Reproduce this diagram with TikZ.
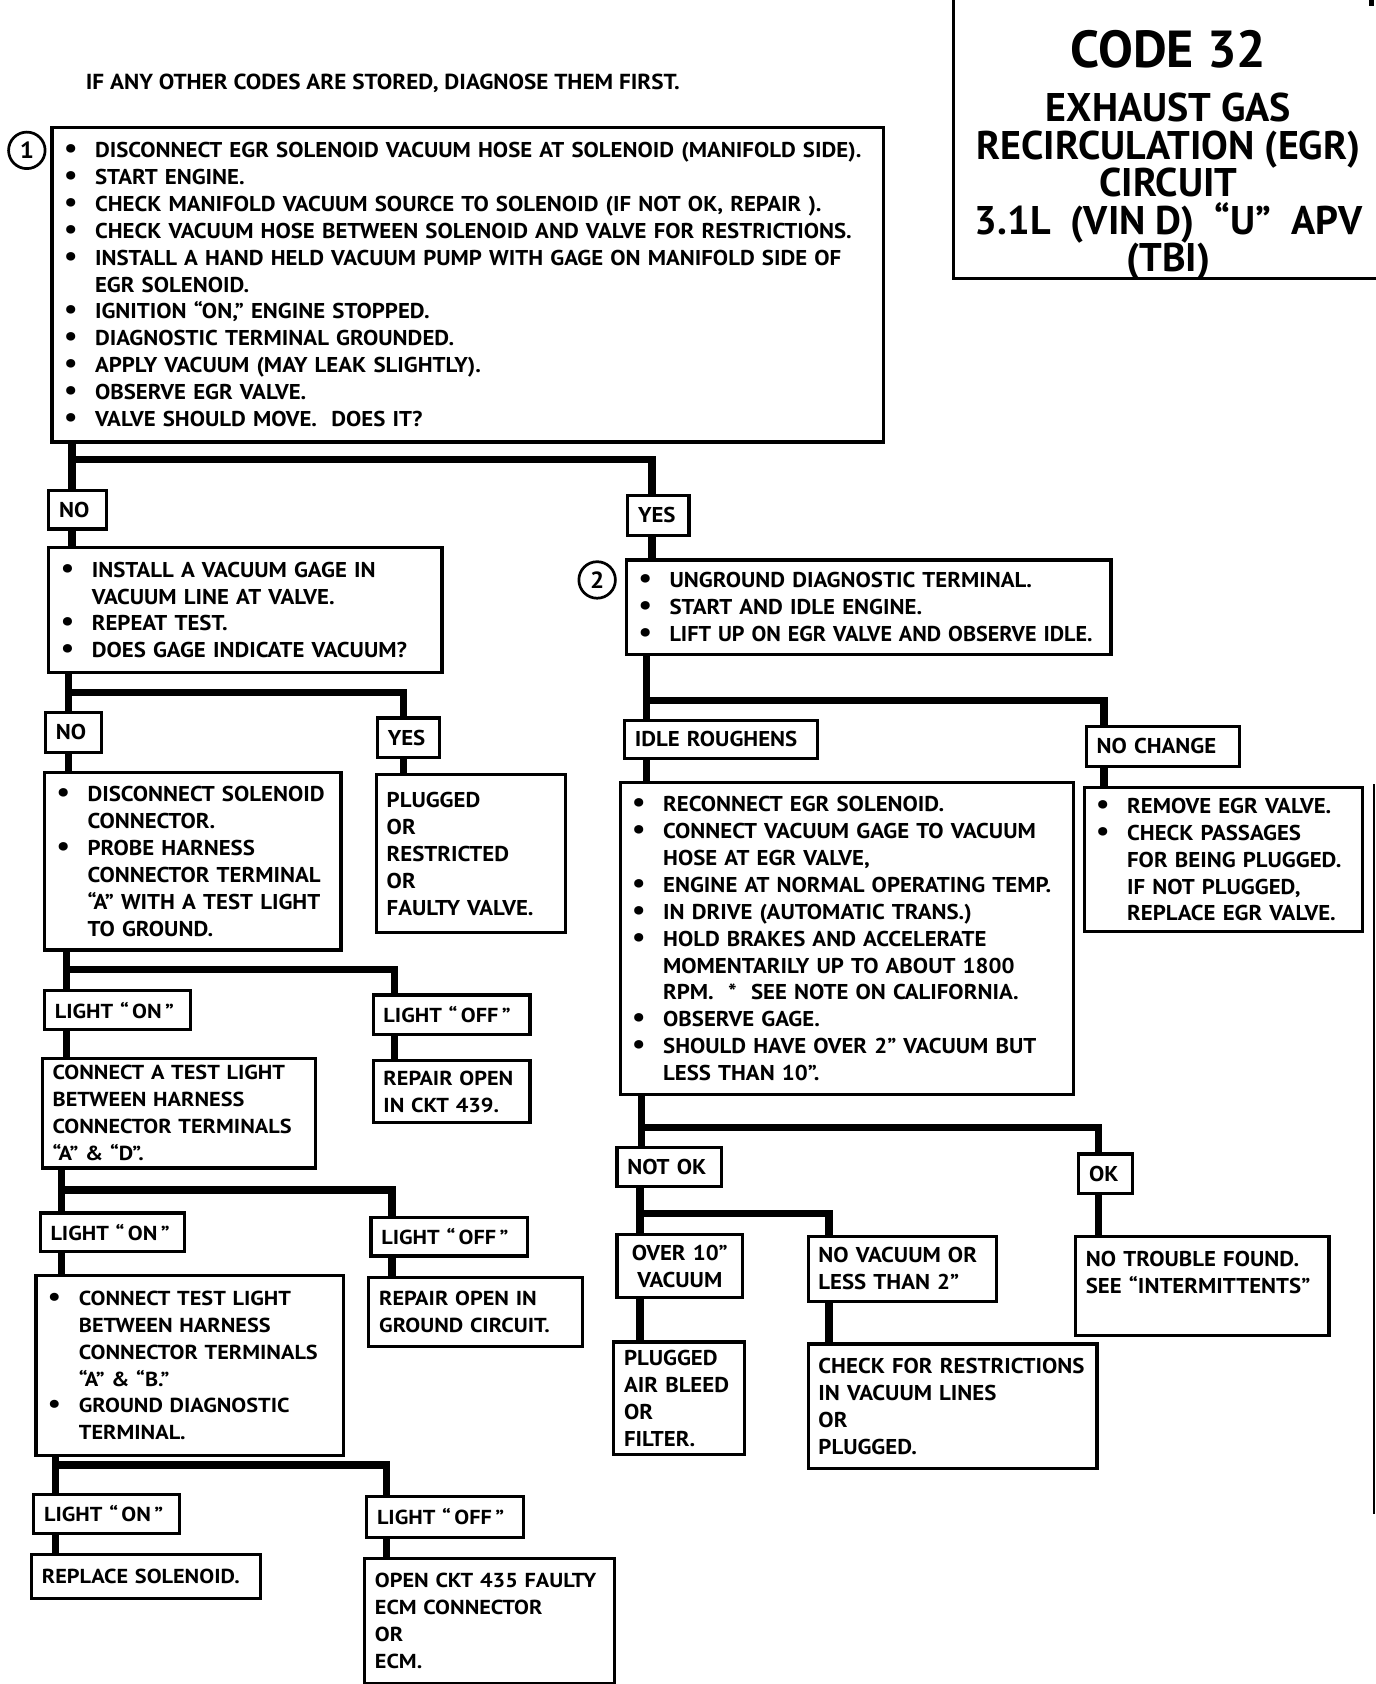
\documentclass[tikz,border=0pt]{standalone}
\usepackage{fontspec}
\setmainfont{PT Sans}[FakeStretch=1.065]
\newfontfamily\plainfont{PT Sans}
\newfontfamily\widefont{PT Sans}[FakeStretch=1.1]
\newcommand\bodyfont{\fontsize{14.2}{17.8}\selectfont\bfseries}
\newcommand\widebody{\widefont\fontsize{13.4}{17.8}\selectfont\bfseries}
\newcommand\bul{\makebox[7.6mm][l]{\hspace{0.4mm}\scalebox{1.3}{\textbullet}}}
\newcommand\ind{\hspace*{7.6mm}}
\begin{document}
\begin{tikzpicture}[x=0.25mm,y=-0.25mm,every node/.style={font=\bodyfont},
  box/.code 2 args={\pgfmathsetlengthmacro\boxw{#1*0.25mm}\pgfmathsetlengthmacro\boxh{#2*0.25mm}%
    \pgfmathsetlengthmacro\boxtw{#1*0.25mm-4.8mm}%
    \tikzset{draw,line width=2.1pt,anchor=north west,inner xsep=2.4mm,inner ysep=0pt,align=left,
      minimum width=\boxw,minimum height=\boxh,text width=\boxtw}},
  wide/.style={font=\widebody},
  conn/.style={line width=4.8pt},
  num/.style={draw,circle,line width=1.8pt,minimum size=8.5mm,inner sep=0pt,font=\fontsize{15.5}{17}\selectfont\bfseries}]
\useasboundingbox (0,0) rectangle (1281,1568);
% heading and title
\node[font=\fontsize{14.4}{16}\selectfont\bfseries,anchor=west] (note) at (75,78) {IF ANY OTHER CODES ARE STORED, DIAGNOSE THEM FIRST.};
\draw[line width=2.1pt] (888,-10) -- (888,259) -- (1300,259);
\node[font=\plainfont\fontsize{34.5}{40}\selectfont\bfseries] (code) at (1088,46) {CODE 32};
\node[font=\plainfont\fontsize{26.5}{24.9}\selectfont\bfseries,align=center] (title) at (1088,174) {EXHAUST GAS\\ RECIRCULATION (EGR)\\ CIRCUIT\\ 3.1L\ \ (VIN D)\ \ “U”\ \ APV\\ (TBI)};
% step 1
\node[num] (c1) at (25,140) {1};
\node[box={774}{293}] (step1) at (47,117) {\bul DISCONNECT EGR SOLENOID VACUUM HOSE AT SOLENOID (MANIFOLD SIDE).\\
  \bul START ENGINE.\\
  \bul CHECK MANIFOLD VACUUM SOURCE TO SOLENOID (IF NOT OK, REPAIR ).\\
  \bul CHECK VACUUM HOSE BETWEEN SOLENOID AND VALVE FOR RESTRICTIONS.\\
  \bul INSTALL A HAND HELD VACUUM PUMP WITH GAGE ON MANIFOLD SIDE OF\\
  \ind EGR SOLENOID.\\
  \bul IGNITION “ON,” ENGINE STOPPED.\\
  \bul DIAGNOSTIC TERMINAL GROUNDED.\\
  \bul APPLY VACUUM (MAY LEAK SLIGHTLY).\\
  \bul OBSERVE EGR VALVE.\\
  \bul VALVE SHOULD MOVE.\ \ DOES IT?};
\node[box={54}{36}] (no1) at (44,455) {NO};
\node[box={57}{37}] (yes1) at (583,460) {YES};
% valve does not move
\node[box={366}{117}] (vacgage) at (44,508) {\bul INSTALL A VACUUM GAGE IN\\ \ind VACUUM LINE AT VALVE.\\ \bul REPEAT TEST.\\ \bul DOES GAGE INDICATE VACUUM?};
\node[box={52}{37}] (no2) at (41,662) {NO};
\node[box={58}{37}] (yes2) at (350,667) {YES};
\node[box={276}{165}] (discon) at (40,718) {\bul DISCONNECT SOLENOID\\ \ind CONNECTOR.\\ \bul PROBE HARNESS\\ \ind CONNECTOR TERMINAL\\ \ind “A” WITH A TEST LIGHT\\ \ind TO GROUND.};
\node[box={176}{147}] (plug) at (349,720) {PLUGGED\\ OR\\ RESTRICTED\\ OR\\ FAULTY VALVE.};
\node[box={136}{36},wide] (on1) at (40,921) {LIGHT “\,ON\,”};
\node[box={146}{37},wide] (off1) at (346,925) {LIGHT “\,OFF\,”};
\node[box={254}{102},wide] (conad) at (38,984) {CONNECT A TEST LIGHT\\ BETWEEN HARNESS\\ CONNECTOR TERMINALS\\ “A” \& “D”.};
\node[box={146}{58},wide] (rep439) at (346,986) {REPAIR OPEN\\ IN CKT 439.};
\node[box={134}{36},wide] (on2) at (36,1128) {LIGHT “\,ON\,”};
\node[box={146}{36},wide] (off2) at (344,1132) {LIGHT “\,OFF\,”};
\node[box={286}{168},wide] (conab) at (32,1186) {\bul CONNECT TEST LIGHT\\ \ind BETWEEN HARNESS\\ \ind CONNECTOR TERMINALS\\ \ind “A” \& “B.”\\ \bul GROUND DIAGNOSTIC\\ \ind TERMINAL.};
\node[box={199}{64},wide] (repgnd) at (342,1188) {REPAIR OPEN IN\\ GROUND CIRCUIT.};
\node[box={136}{36},wide] (on3) at (30,1390) {LIGHT “\,ON\,”};
\node[box={146}{38},wide] (off3) at (340,1392) {LIGHT “\,OFF\,”};
\node[box={213}{41},wide] (replsol) at (28,1446) {REPLACE SOLENOID.};
\node[box={233}{116},wide] (open435) at (338,1450) {OPEN CKT 435 FAULTY\\ ECM CONNECTOR\\ OR\\ ECM.};
% valve moves
\node[num] (c2) at (556,540) {2};
\node[box={451}{88}] (unground) at (582,520) {\bul UNGROUND DIAGNOSTIC TERMINAL.\\ \bul START AND IDLE ENGINE.\\ \bul \scalebox{0.97}[1]{LIFT UP ON EGR VALVE AND OBSERVE IDLE.}};
\node[box={180}{36}] (idle) at (580,669) {IDLE ROUGHENS};
\node[box={143}{37}] (nochg) at (1010,675) {NO CHANGE};
\node[box={422}{291}] (recon) at (576,727) {\bul RECONNECT EGR SOLENOID.\\
  \bul CONNECT VACUUM GAGE TO VACUUM\\ \ind HOSE AT EGR VALVE,\\
  \bul ENGINE AT NORMAL OPERATING TEMP.\\
  \bul IN DRIVE (AUTOMATIC TRANS.)\\
  \bul HOLD BRAKES AND ACCELERATE\\ \ind MOMENTARILY UP TO ABOUT 1800\\ \ind RPM.\ \ *\ \ SEE NOTE ON CALIFORNIA.\\
  \bul OBSERVE GAGE.\\
  \bul SHOULD HAVE OVER 2” VACUUM BUT\\ \ind LESS THAN 10”.};
\node[box={259}{134}] (remove) at (1008,732) {\bul REMOVE EGR VALVE.\\ \bul CHECK PASSAGES\\ \ind FOR BEING PLUGGED.\\ \ind IF NOT PLUGGED,\\ \ind REPLACE EGR VALVE.};
\node[box={97}{36}] (notok) at (573,1067) {NOT OK};
\node[box={50}{37}] (ok) at (1003,1073) {OK};
\node[box={236}{92}] (ntf) at (1000,1150) {NO TROUBLE FOUND.\\ SEE “INTERMITTENTS”\\ \mbox{}};
\node[box={117}{59},align=center] (over10) at (573,1148) {OVER 10”\\ VACUUM};
\node[box={175}{60}] (novac) at (751,1150) {NO VACUUM OR\\ LESS THAN 2”};
\node[box={122}{105}] (bleed) at (570,1248) {PLUGGED\\ AIR BLEED\\ OR\\ FILTER.};
\node[box={269}{116}] (restr) at (751,1250) {CHECK FOR RESTRICTIONS\\ IN VACUUM LINES\\ OR\\ PLUGGED.};
% branch lines
\coordinate (j1) at (67,428); \coordinate (j1r) at (607,428);
\draw[conn] (j1 |- step1.south) -- (j1 |- no1.north);
\draw[conn] (j1) -- (j1r) -- (j1r |- yes1.north);
\draw[conn] (j1 |- no1.south) -- (j1 |- vacgage.north);
\draw[conn] (j1r |- yes1.south) -- (j1r |- unground.north);
\coordinate (j2) at (64,645); \coordinate (j2r) at (376,645);
\draw[conn] (j2 |- vacgage.south) -- (j2 |- no2.north);
\draw[conn] (j2) -- (j2r) -- (j2r |- yes2.north);
\draw[conn] (j2 |- no2.south) -- (j2 |- discon.north);
\draw[conn] (j2r |- yes2.south) -- (j2r |- plug.north);
\coordinate (j3) at (62,903); \coordinate (j3r) at (367,903);
\draw[conn] (j3 |- discon.south) -- (j3 |- on1.north);
\draw[conn] (j3) -- (j3r) -- (j3r |- off1.north);
\draw[conn] (j3 |- on1.south) -- (j3 |- conad.north);
\draw[conn] (j3r |- off1.south) -- (j3r |- rep439.north);
\coordinate (j4) at (57,1108); \coordinate (j4r) at (365,1108);
\draw[conn] (j4 |- conad.south) -- (j4 |- on2.north);
\draw[conn] (j4) -- (j4r) -- (j4r |- off2.north);
\draw[conn] (j4 |- on2.south) -- (j4 |- conab.north);
\draw[conn] (j4r |- off2.south) -- (j4r |- repgnd.north);
\coordinate (j5) at (52,1364); \coordinate (j5r) at (360,1364);
\draw[conn] (j5 |- conab.south) -- (j5 |- on3.north);
\draw[conn] (j5) -- (j5r) -- (j5r |- off3.north);
\draw[conn] (j5 |- on3.south) -- (j5 |- replsol.north);
\draw[conn] (j5r |- off3.south) -- (j5r |- open435.north);
\coordinate (j6) at (602,652); \coordinate (j6r) at (1028,652);
\draw[conn] (j6 |- unground.south) -- (j6 |- idle.north);
\draw[conn] (j6) -- (j6r) -- (j6r |- nochg.north);
\draw[conn] (j6 |- idle.south) -- (j6 |- recon.north);
\draw[conn] (j6r |- nochg.south) -- (j6r |- remove.north);
\coordinate (j7) at (597,1050); \coordinate (j7r) at (1023,1050);
\draw[conn] (j7 |- recon.south) -- (j7 |- notok.north);
\draw[conn] (j7) -- (j7r) -- (j7r |- ok.north);
\draw[conn] (j7r |- ok.south) -- (j7r |- ntf.north);
\coordinate (j8) at (596,1130); \coordinate (j8r) at (772,1130);
\draw[conn] (j8 |- notok.south) -- (j8 |- over10.north);
\draw[conn] (j8) -- (j8r) -- (j8r |- novac.north);
\draw[conn] (j8 |- over10.south) -- (j8 |- bleed.north);
\draw[conn] (j8r |- novac.south) -- (j8r |- restr.north);
% page edge marks
\draw[line width=1.2pt] (1279,730) -- (1279,1410);
\draw[line width=3pt] (1277,-2) -- (1277,6);
\end{tikzpicture}
\end{document}
